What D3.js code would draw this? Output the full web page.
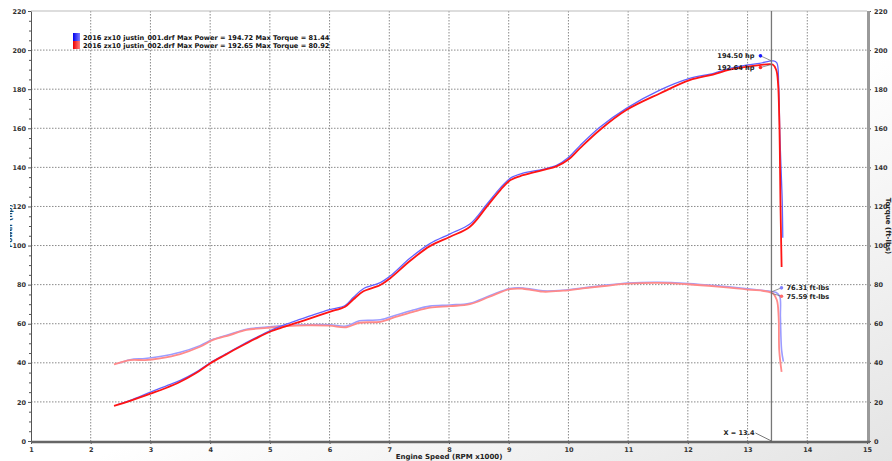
<!DOCTYPE html>
<html>
<head>
<meta charset="utf-8">
<script src="https://cdn.jsdelivr.net/npm/d3@7"></script>
<style>
  body { margin: 0; background: #fff; }
  text { font-family: "DejaVu Sans", sans-serif; font-weight: bold; }
</style>
</head>
<body>
<div class="chart"></div>
<script>
// run 001 (blue) and run 002 (red), [rpm x1000, value]
const power001 = [[2.45,18.6],[2.66,20.8],[3.0,25.0],[3.25,28],[3.5,31.0],[3.75,35],[4.0,40],[4.25,44.3],[4.5,48.6],[4.75,52.6],[5.0,56.4],[5.25,59.5],[5.5,62.2],[5.75,64.8],[6.0,67.2],[6.26,69.3],[6.4,73.5],[6.56,77.8],[6.85,81],[7.02,84.5],[7.35,93.6],[7.68,101],[8.02,106],[8.35,111],[8.63,121],[8.86,129.5],[9.03,134.5],[9.24,137],[9.57,139],[9.8,141],[10.0,145],[10.19,151],[10.52,160.4],[10.97,170.2],[11.53,179.5],[12.03,185.5],[12.42,188],[12.7,190.6],[13.0,192.4],[13.2,193.2],[13.43,194.5],[13.49,193.5],[13.52,183],[13.54,157.5],[13.57,132],[13.58,123],[13.59,104]];
const power002 = [[2.39,18.0],[2.66,20.5],[3.0,24.2],[3.25,27],[3.5,30.3],[3.75,34.5],[4.0,39.7],[4.25,44],[4.5,48.2],[4.75,52.2],[5.0,55.9],[5.25,58.5],[5.5,61.0],[5.75,63.5],[6.0,66.1],[6.26,68.7],[6.4,72.5],[6.56,76.5],[6.85,79.8],[7.02,83.4],[7.35,92.2],[7.68,99.7],[8.02,104.5],[8.35,109.6],[8.63,119.8],[8.86,128.4],[9.03,133.5],[9.24,136],[9.57,138.6],[9.8,140.5],[10.0,144],[10.19,149.7],[10.52,159],[10.97,169.3],[11.53,177.8],[12.03,184.6],[12.42,187.5],[12.7,190],[13.0,191.5],[13.2,192.3],[13.42,192.6],[13.48,189.8],[13.51,183],[13.53,166],[13.54,149],[13.55,123],[13.56,106],[13.57,89]];
const torque001 = [[2.45,39.6],[2.66,41.6],[2.91,42.2],[3.16,43.2],[3.5,45.4],[3.83,48.8],[4.05,52],[4.33,54.6],[4.61,57.2],[4.95,58.3],[5.28,59.1],[5.62,59.5],[6.0,59.5],[6.28,58.8],[6.5,61.5],[6.85,62],[7.12,64.5],[7.4,67],[7.68,69],[8.02,69.6],[8.35,70.5],[8.68,74.3],[9.02,78],[9.24,78.3],[9.57,76.8],[9.91,77.1],[10.24,78.3],[10.6,79.6],[11.0,80.8],[11.5,81.2],[12.0,80.6],[12.5,79.4],[13.0,77.9],[13.43,76.3],[13.48,76.0],[13.54,73.8],[13.55,63.6],[13.57,46.5],[13.6,40.6]];
const torque002 = [[2.39,39.2],[2.66,41.4],[2.91,41.4],[3.16,42.3],[3.5,44.5],[3.83,48.2],[4.05,51.7],[4.33,54.2],[4.61,56.8],[4.95,57.9],[5.28,58.8],[5.62,59.2],[6.0,59.0],[6.28,58.2],[6.5,60.5],[6.85,61],[7.12,63.6],[7.4,66.1],[7.68,68.2],[8.02,69],[8.35,70],[8.68,73.8],[9.02,77.7],[9.24,77.9],[9.57,76.4],[9.91,76.9],[10.24,78.1],[10.6,79.3],[11.0,80.5],[11.5,80.9],[12.0,80.2],[12.5,79],[13.0,77.5],[13.42,75.6],[13.49,72.1],[13.52,63.6],[13.53,46.5],[13.57,35.4]];

const legendLabels = [
    "2016 zx10 justin_001.drf Max Power = 194.72 Max Torque = 81.44",
    "2016 zx10 justin_002.drf Max Power = 192.65 Max Torque = 80.92"
];
const cursorRpm = 13.4;
const cursorPower = [194.50, 192.64];
const cursorTorque = [76.31, 75.59];
const xTicks = d3.range(1, 16);
const yTicks = d3.range(0, 221, 20);

function init() {
    const w = 892;
    const h = 461;
    const left = 31, right = 867, top = 11, bottom = 441;

    const x = d3.scaleLinear().domain([1, 15]).range([left, right]);
    const y = d3.scaleLinear().domain([0, 220]).range([bottom, top]);

    const svg = d3.select(".chart")
        .append("svg")
        .attr("width", w)
        .attr("height", h);

    const defs = svg.append("defs");
    const bg = defs.append("linearGradient")
        .attr("id", "bg")
        .attr("x1", "0").attr("y1", "0").attr("x2", "1").attr("y2", "1");
    bg.append("stop").attr("offset", "0.55").attr("stop-color", "#ffffff");
    bg.append("stop").attr("offset", "1").attr("stop-color", "#e4e4e4");

    const blueBox = defs.append("linearGradient").attr("id", "blueBox")
        .attr("x1", "0").attr("x2", "1");
    blueBox.append("stop").attr("offset", "0").attr("stop-color", "#0000ee");
    blueBox.append("stop").attr("offset", "1").attr("stop-color", "#8080ff");
    const redBox = defs.append("linearGradient").attr("id", "redBox")
        .attr("x1", "0").attr("x2", "1");
    redBox.append("stop").attr("offset", "0").attr("stop-color", "#ee0000");
    redBox.append("stop").attr("offset", "1").attr("stop-color", "#ff8080");

    defs.append("clipPath").attr("id", "yclip")
        .append("rect").attr("x", 10).attr("y", 0).attr("width", 30).attr("height", h);

    svg.append("rect").attr("width", w).attr("height", h).attr("fill", "url(#bg)");
    svg.append("rect")
        .attr("x", left).attr("y", top)
        .attr("width", right - left).attr("height", bottom - top)
        .attr("fill", "#fff");

    // grid
    svg.append("g")
        .selectAll("line")
        .data(yTicks.filter(d => d > 0 && d < 220))
        .enter()
        .append("line")
        .attr("x1", left).attr("x2", right)
        .attr("y1", d => y(d)).attr("y2", d => y(d))
        .style("stroke", "#8a8a8a")
        .style("stroke-dasharray", "1.5,1.5");
    svg.append("g")
        .selectAll("line")
        .data(xTicks.filter(d => d > 1 && d < 15))
        .enter()
        .append("line")
        .attr("y1", top).attr("y2", bottom)
        .attr("x1", d => x(d)).attr("x2", d => x(d))
        .style("stroke", "#8a8a8a")
        .style("stroke-dasharray", "1.5,1.5");

    // axes
    const axisColor = "#555";
    const leftAxis = svg.append("g")
        .attr("transform", `translate(${left},0)`)
        .call(d3.axisLeft(y).tickValues(yTicks).tickSize(3).tickPadding(2));
    svg.append("g")
        .attr("transform", `translate(${left},0)`)
        .call(d3.axisLeft(y).tickValues(d3.range(5, 220, 5).filter(d => d % 20 !== 0)).tickSize(2).tickFormat(""))
        .call(g => g.select(".domain").remove());

    const rightAxis = svg.append("g")
        .attr("transform", `translate(${right},0)`)
        .call(d3.axisRight(y).tickValues(yTicks).tickSize(4).tickPadding(3));
    svg.append("g")
        .attr("transform", `translate(${right},0)`)
        .call(d3.axisRight(y).tickValues(d3.range(5, 220, 5).filter(d => d % 20 !== 0)).tickSize(3).tickFormat(""))
        .call(g => g.select(".domain").remove());
    svg.append("rect")
        .attr("x", right).attr("y", top)
        .attr("width", 3).attr("height", bottom - top)
        .attr("fill", "#9a9a9a");

    const bottomAxis = svg.append("g")
        .attr("transform", `translate(0,${bottom})`)
        .call(d3.axisBottom(x).tickValues(xTicks).tickSize(3).tickPadding(3));
    svg.append("g")
        .attr("transform", `translate(0,${bottom})`)
        .call(d3.axisBottom(x).tickValues(d3.range(1.2, 15, 0.2)).tickSize(2).tickFormat(""))
        .call(g => g.select(".domain").remove());

    [leftAxis, rightAxis, bottomAxis].forEach(g => {
        g.selectAll("text").style("font-size", "6.5px").style("fill", "#333");
        g.selectAll("line").style("stroke", axisColor);
        g.select(".domain").style("stroke", axisColor);
    });
    svg.selectAll(".tick line").style("stroke", axisColor);
    svg.append("line")
        .attr("x1", left).attr("x2", right + 3)
        .attr("y1", bottom + 1).attr("y2", bottom + 1)
        .style("stroke", "#666").style("stroke-width", 2.5);
    svg.append("line")
        .attr("x1", left).attr("x2", right)
        .attr("y1", top).attr("y2", top)
        .style("stroke", "#bbb");

    // axis titles
    svg.append("text")
        .attr("transform", `translate(${left + (right - left) / 2},${h - 2})`)
        .attr("text-anchor", "middle")
        .style("font-size", "7px")
        .style("fill", "#222")
        .text("Engine Speed (RPM x1000)");
    svg.append("text")
        .attr("transform", `translate(886,${(top + bottom) / 2}) rotate(90)`)
        .attr("text-anchor", "middle")
        .style("font-size", "7px")
        .style("fill", "#222")
        .text("Torque (ft-lbs)");
    svg.append("g").attr("clip-path", "url(#yclip)")
        .append("text")
        .attr("transform", `translate(12,${(top + bottom) / 2}) rotate(-90)`)
        .attr("text-anchor", "middle")
        .style("font-size", "7px")
        .style("fill", "#1a4a6a")
        .text("Power (hp)");

    // curves
    const line = d3.line()
        .x(d => x(d[0]))
        .y(d => y(d[1]))
        .curve(d3.curveCatmullRom.alpha(0.5));

    const series = [
        { data: torque001, color: "#9c9cff", width: 1.6 },
        { data: torque002, color: "#ff8a8a", width: 1.8 },
        { data: power001, color: "#6262ff", width: 1.3 },
        { data: power002, color: "#ff1414", width: 1.8 }
    ];
    svg.append("g")
        .selectAll("path")
        .data(series)
        .enter()
        .append("path")
        .attr("d", d => line(d.data))
        .style("fill", "none")
        .style("stroke", d => d.color)
        .style("stroke-width", d => d.width)
        .style("stroke-linejoin", "round");

    // cursor
    const cx = x(cursorRpm);
    svg.append("line")
        .attr("x1", cx).attr("x2", cx)
        .attr("y1", top).attr("y2", bottom)
        .style("stroke", "#777").style("stroke-width", 1.3);
    svg.append("text")
        .attr("x", cx - 17).attr("y", bottom - 6)
        .attr("text-anchor", "end")
        .style("font-size", "6.5px").style("fill", "#222")
        .text("X = " + cursorRpm);
    svg.append("line")
        .attr("x1", cx - 16).attr("y1", bottom - 8)
        .attr("x2", cx).attr("y2", bottom)
        .style("stroke", "#555").style("stroke-width", 0.8);

    const dotColors = ["#1a1aff", "#ff2a2a"];
    const textShift = [-3, 5];
    cursorPower.forEach((v, i) => {
        const px = cx - 11, py = y(v) + textShift[i] - 2;
        svg.append("line")
            .attr("x1", px).attr("y1", py)
            .attr("x2", cx).attr("y2", y(v))
            .style("stroke", "#666").style("stroke-width", 0.7);
        svg.append("circle")
            .attr("cx", px).attr("cy", py).attr("r", 1.8)
            .style("fill", dotColors[i]);
        svg.append("text")
            .attr("x", px - 6).attr("y", py + 2.5)
            .attr("text-anchor", "end")
            .style("font-size", "6.6px").style("fill", "#222")
            .text(v.toFixed(2) + " hp");
    });
    cursorTorque.forEach((v, i) => {
        const px = cx + 10, py = y(v) + (i === 0 ? -4 : 3);
        svg.append("line")
            .attr("x1", cx).attr("y1", y(v))
            .attr("x2", px).attr("y2", py)
            .style("stroke", "#666").style("stroke-width", 0.7);
        svg.append("circle")
            .attr("cx", px).attr("cy", py).attr("r", 1.8)
            .style("fill", i === 0 ? "#8080ff" : "#ff6a6a");
        svg.append("text")
            .attr("x", px + 5).attr("y", py + 2.5)
            .style("font-size", "6.6px").style("fill", "#222")
            .text(v.toFixed(2) + " ft-lbs");
    });

    // legend
    const legend = svg.append("g");
    legendLabels.forEach((t, i) => {
        legend.append("rect")
            .attr("x", 73).attr("y", 33 + i * 8)
            .attr("width", 7).attr("height", 8)
            .attr("fill", i === 0 ? "url(#blueBox)" : "url(#redBox)");
        legend.append("text")
            .attr("x", 83).attr("y", 39.5 + i * 8)
            .style("font-size", "6.6px").style("fill", "#111")
            .text(t);
    });
}

window.onload = init;
</script>
</body>
</html>
